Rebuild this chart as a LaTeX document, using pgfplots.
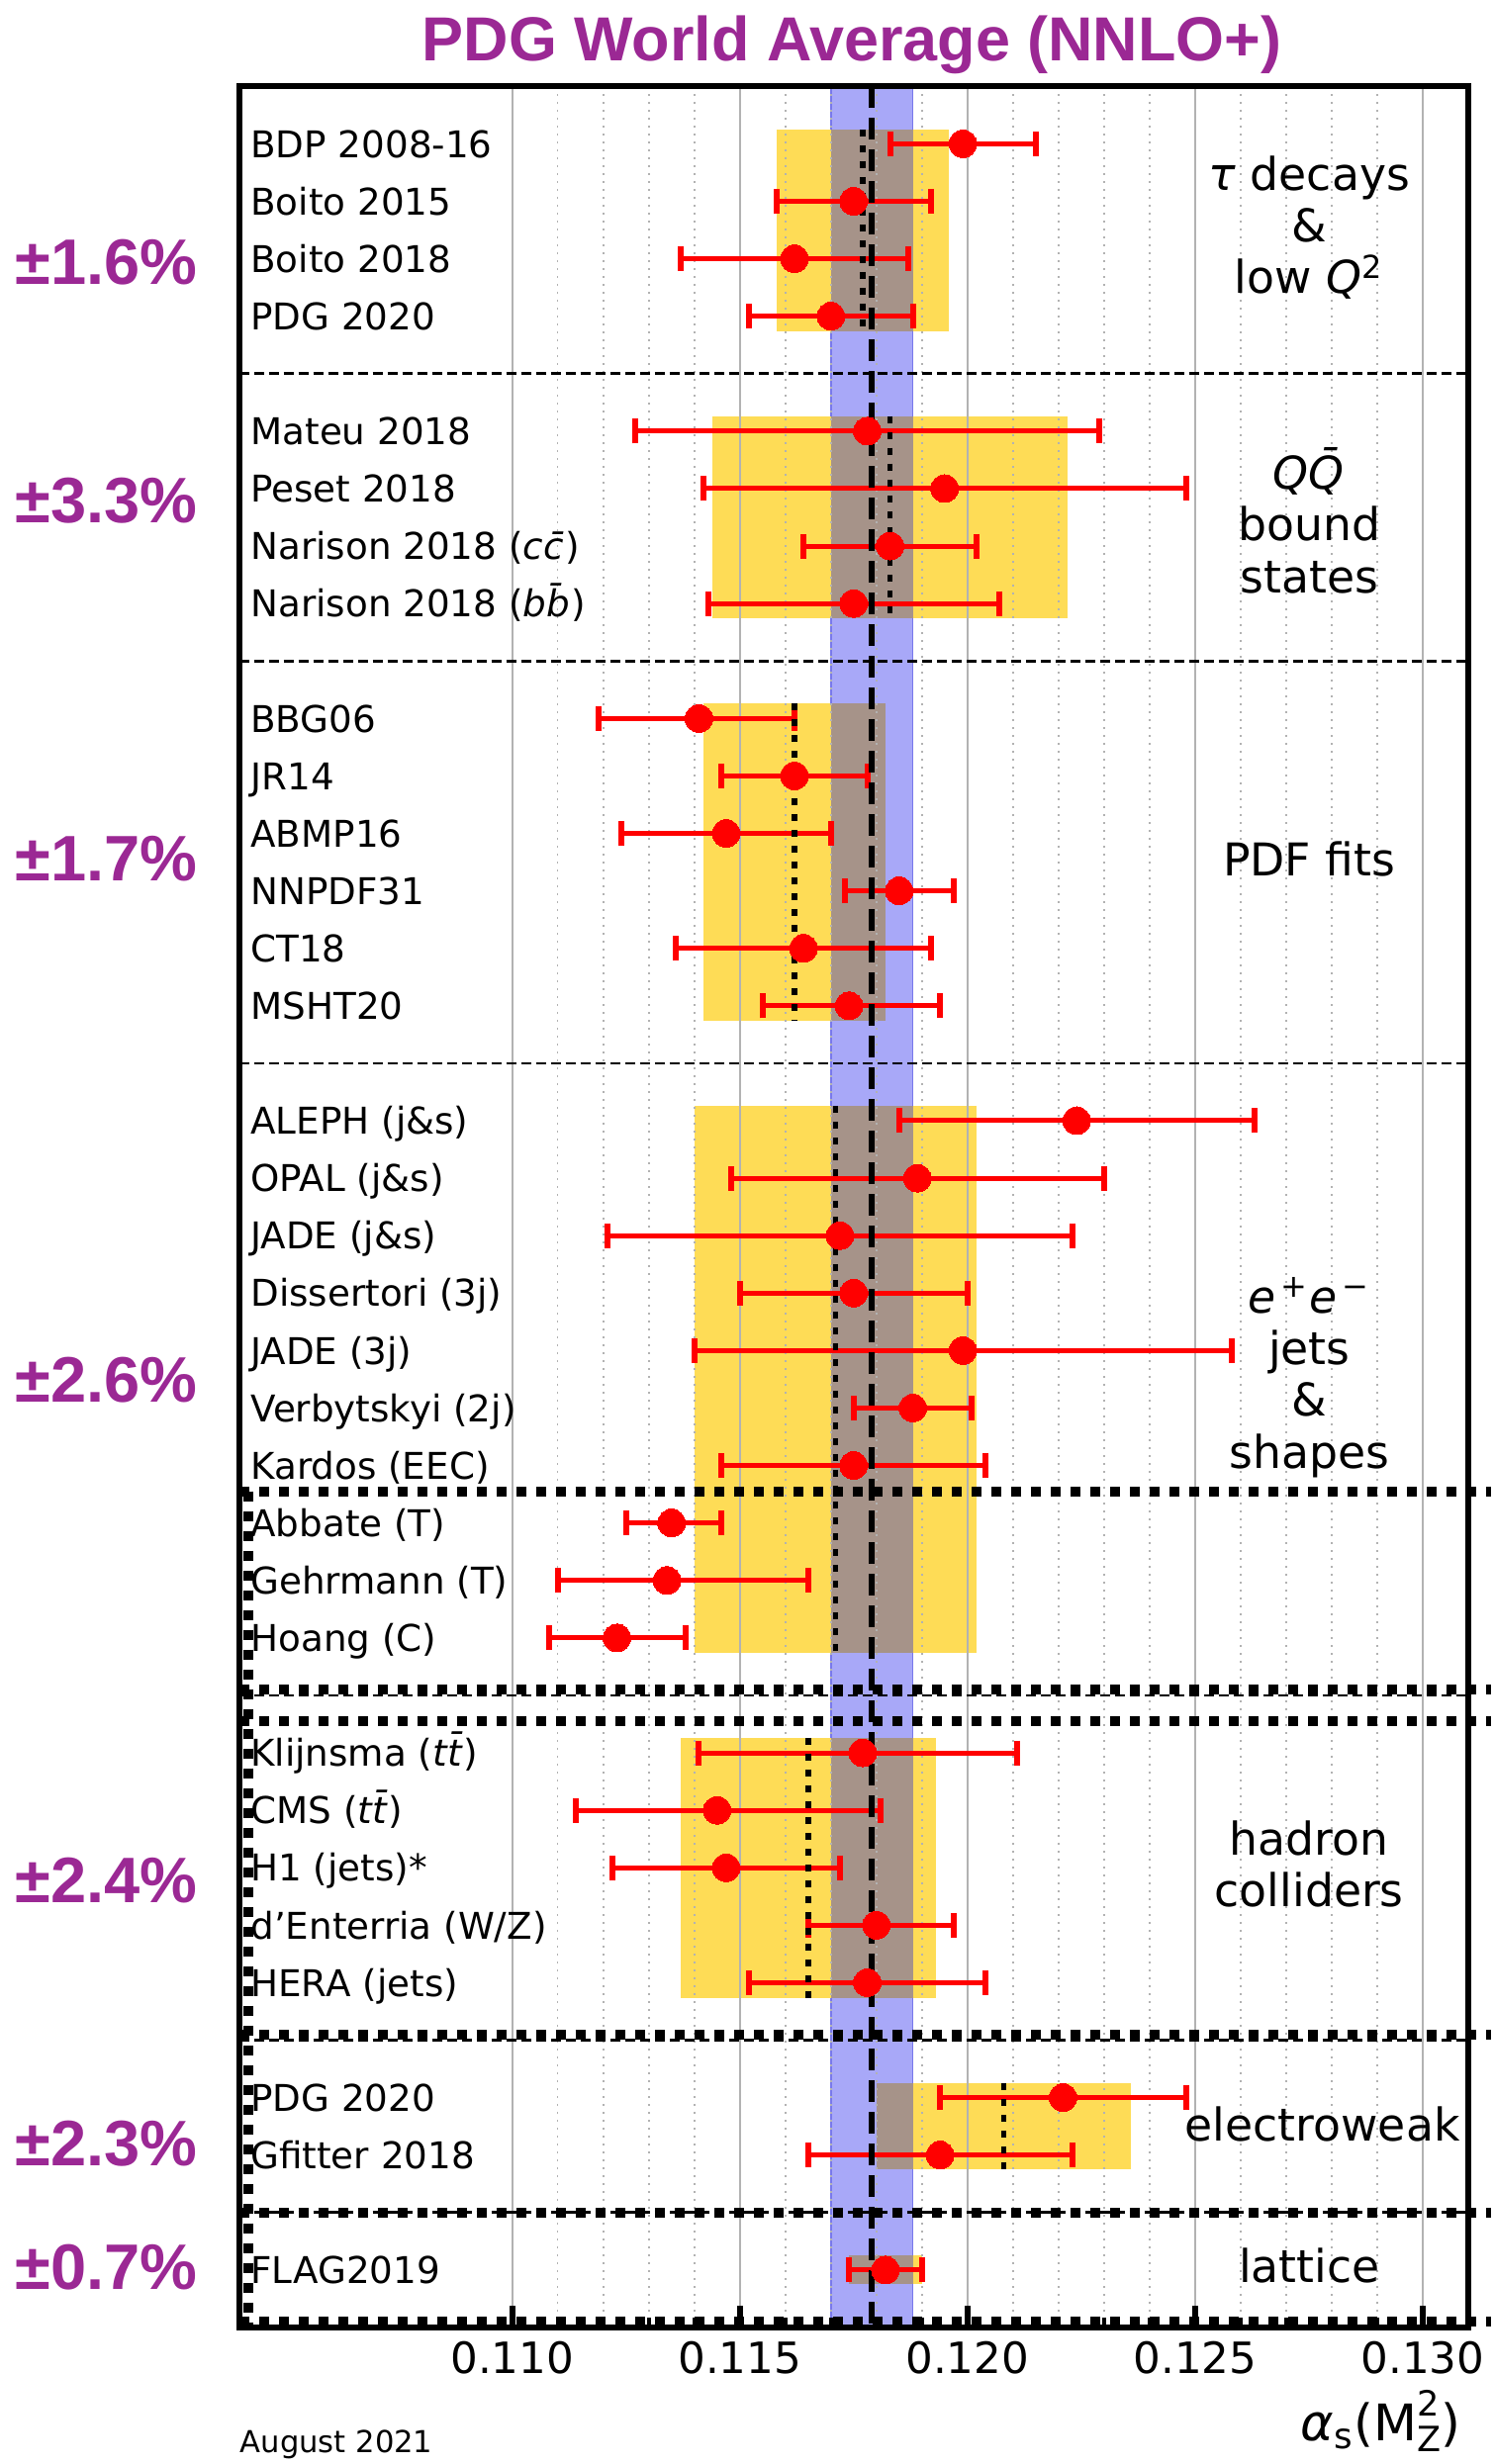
\documentclass[border=0pt]{standalone}
\usepackage{fontspec}
\setmainfont{DejaVu Sans}
\newfontfamily\helv{Liberation Sans}
\usepackage{pgfplots}
\pgfplotsset{compat=1.18}
\usepackage{pgfplotstable}
\definecolor{wapurple}{RGB}{155,40,148}
\definecolor{bandblue}{RGB}{168,168,248}
\definecolor{bandedge}{RGB}{120,120,235}
\definecolor{boxyellow}{RGB}{254,220,86}
\definecolor{boxbrown}{RGB}{166,147,137}
\definecolor{gridgray}{RGB}{178,178,178}

\pgfplotstableread{
y  x      em     ep
1  0.1199 0.0016 0.0016
2  0.1175 0.0017 0.0017
3  0.1162 0.0025 0.0025
4  0.1170 0.0018 0.0018
6  0.1178 0.0051 0.0051
7  0.1195 0.0053 0.0053
8  0.1183 0.0019 0.0019
9  0.1175 0.0032 0.0032
11 0.1141 0.0022 0.0021
12 0.1162 0.0016 0.0016
13 0.1147 0.0023 0.0023
14 0.1185 0.0012 0.0012
15 0.1164 0.0028 0.0028
16 0.1174 0.0019 0.0020
18 0.1224 0.0039 0.0039
19 0.1189 0.0041 0.0041
20 0.1172 0.0051 0.0051
21 0.1175 0.0025 0.0025
22 0.1199 0.0059 0.0059
23 0.1188 0.0013 0.0013
24 0.1175 0.0029 0.0029
25 0.1135 0.0010 0.0011
26 0.1134 0.0024 0.0031
27 0.1123 0.0015 0.0015
29 0.1177 0.0036 0.0034
30 0.1145 0.0031 0.0036
31 0.1147 0.0025 0.0025
32 0.1180 0.0015 0.0017
33 0.1178 0.0026 0.0026
35 0.1221 0.0027 0.0027
36 0.1194 0.0029 0.0029
38 0.1182 0.0008 0.0008
}\meas

\begin{document}
\begin{tikzpicture}
\begin{axis}[
  set layers,
  scale only axis, width=124.2mm, height=226.55mm,
  xmin=0.104, xmax=0.131, ymin=0, ymax=39, y dir=reverse,
  clip=false,
  axis line style={line width=0.57mm, black},
  ytick=\empty,
  xtick={0.110,0.115,0.120,0.125,0.130},
  xticklabels={0.110,0.115,0.120,0.125,0.130},
  minor xtick={0.111,0.112,0.113,0.114,0.116,0.117,0.118,0.119,0.121,0.122,0.123,0.124,0.126,0.127,0.128,0.129},
  xtick pos=bottom, tick align=inside,
  major tick length=2.2mm, minor tick length=1.0mm,
  major tick style={line width=0.6mm, black},
  minor tick style={line width=0.35mm, black},
  xmajorgrids, xminorgrids,
  major grid style={gridgray, line width=0.2mm},
  minor grid style={gridgray, line width=0.15mm, dash pattern=on 0.2mm off 0.6mm},
  xticklabel style={font=\fontsize{12.4}{14}\selectfont, inner sep=0pt, anchor=north, yshift=-1.35mm},
]
% world average band
\addplot[on layer=axis background, fill=bandblue, draw=bandedge, line width=0.15mm]
  coordinates {(0.1170,0) (0.1188,0) (0.1188,39) (0.1170,39)} -- cycle;
% group boxes (yellow)
\addplot[on layer=axis background, fill=boxyellow, draw=none] coordinates {(0.1158,0.75) (0.1196,0.75) (0.1196,4.27) (0.1158,4.27)} -- cycle;
\addplot[on layer=axis background, fill=boxyellow, draw=none] coordinates {(0.1144,5.74) (0.1222,5.74) (0.1222,9.26) (0.1144,9.26)} -- cycle;
\addplot[on layer=axis background, fill=boxyellow, draw=none] coordinates {(0.1142,10.74) (0.1182,10.74) (0.1182,16.26) (0.1142,16.26)} -- cycle;
\addplot[on layer=axis background, fill=boxyellow, draw=none] coordinates {(0.1140,17.74) (0.1202,17.74) (0.1202,27.26) (0.1140,27.26)} -- cycle;
\addplot[on layer=axis background, fill=boxyellow, draw=none] coordinates {(0.1137,28.74) (0.1193,28.74) (0.1193,33.26) (0.1137,33.26)} -- cycle;
\addplot[on layer=axis background, fill=boxyellow, draw=none] coordinates {(0.1180,34.75) (0.1236,34.75) (0.1236,36.25) (0.1180,36.25)} -- cycle;
\addplot[on layer=axis background, fill=boxyellow, draw=none] coordinates {(0.1174,37.75) (0.1190,37.75) (0.1190,38.25) (0.1174,38.25)} -- cycle;
% overlaps (brown)
\addplot[on layer=axis background, fill=boxbrown, draw=none] coordinates {(0.1170,0.75) (0.1188,0.75) (0.1188,4.27) (0.1170,4.27)} -- cycle;
\addplot[on layer=axis background, fill=boxbrown, draw=none] coordinates {(0.1170,5.74) (0.1188,5.74) (0.1188,9.26) (0.1170,9.26)} -- cycle;
\addplot[on layer=axis background, fill=boxbrown, draw=none] coordinates {(0.1170,10.74) (0.1182,10.74) (0.1182,16.26) (0.1170,16.26)} -- cycle;
\addplot[on layer=axis background, fill=boxbrown, draw=none] coordinates {(0.1170,17.74) (0.1188,17.74) (0.1188,27.26) (0.1170,27.26)} -- cycle;
\addplot[on layer=axis background, fill=boxbrown, draw=none] coordinates {(0.1170,28.74) (0.1188,28.74) (0.1188,33.26) (0.1170,33.26)} -- cycle;
\addplot[on layer=axis background, fill=boxbrown, draw=none] coordinates {(0.1180,34.75) (0.1188,34.75) (0.1188,36.25) (0.1180,36.25)} -- cycle;
\addplot[on layer=axis background, fill=boxbrown, draw=none] coordinates {(0.1174,37.75) (0.1188,37.75) (0.1188,38.25) (0.1174,38.25)} -- cycle;

% error bars
\addplot[draw=none, mark=none,
  error bars/.cd, x dir=both, x explicit,
  error bar style={draw=red, line width=0.5mm},
  error mark=|,
  error mark options={draw=red, line width=0.6mm, mark size=1.25mm}]
  table[x=x, y=y, x error minus=em, x error plus=ep] {\meas};

% world average line
\addplot[black, line width=0.6mm, dash pattern=on 2.2mm off 1mm] coordinates {(0.1179,0) (0.1179,39)};
% group averages (dotted)
\addplot[black, line width=0.55mm, dash pattern=on 0.7mm off 0.9mm] coordinates {(0.1177,0.75) (0.1177,4.27)};
\addplot[black, line width=0.55mm, dash pattern=on 0.7mm off 0.9mm] coordinates {(0.1183,5.74) (0.1183,9.26)};
\addplot[black, line width=0.55mm, dash pattern=on 0.7mm off 0.9mm] coordinates {(0.1162,10.74) (0.1162,16.26)};
\addplot[black, line width=0.55mm, dash pattern=on 0.7mm off 0.9mm] coordinates {(0.1171,17.74) (0.1171,27.26)};
\addplot[black, line width=0.55mm, dash pattern=on 0.7mm off 0.9mm] coordinates {(0.1165,28.74) (0.1165,33.26)};
\addplot[black, line width=0.55mm, dash pattern=on 0.7mm off 0.9mm] coordinates {(0.1208,34.75) (0.1208,36.25)};

% thin dashed separators
\addplot[black, line width=0.27mm, dash pattern=on 1.0mm off 0.5mm] coordinates {(0.104,5) (0.131,5)};
\addplot[black, line width=0.27mm, dash pattern=on 1.0mm off 0.5mm] coordinates {(0.104,10) (0.131,10)};
\addplot[black, line width=0.27mm, dash pattern=on 1.0mm off 0.5mm] coordinates {(0.104,17) (0.131,17)};
\addplot[black, line width=0.27mm, dash pattern=on 1.0mm off 0.5mm] coordinates {(0.104,28) (0.131,28)};
\addplot[black, line width=0.27mm, dash pattern=on 1.0mm off 0.5mm] coordinates {(0.104,34) (0.131,34)};
\addplot[black, line width=0.27mm, dash pattern=on 1.0mm off 0.5mm] coordinates {(0.104,37) (0.131,37)};
% thick dotted overlay lines
\addplot[black, line width=1mm, dash pattern=on 1mm off 1mm] coordinates {(0.104,24.45) (0.1315,24.45)};
\addplot[black, line width=1mm, dash pattern=on 1mm off 1mm] coordinates {(0.104,27.9) (0.1315,27.9)};
\addplot[black, line width=1mm, dash pattern=on 1mm off 1mm] coordinates {(0.104,28.45) (0.1315,28.45)};
\addplot[black, line width=1mm, dash pattern=on 1mm off 1mm] coordinates {(0.104,33.9) (0.1315,33.9)};
\addplot[black, line width=1mm, dash pattern=on 1mm off 1mm] coordinates {(0.104,37.0) (0.1315,37.0)};
\addplot[black, line width=1mm, dash pattern=on 1mm off 1mm] coordinates {(0.104,38.9) (0.1315,38.9)};
\addplot[black, line width=1mm, dash pattern=on 1mm off 1mm] coordinates {(0.10420,24.45) (0.10420,39)};

% markers
\addplot[red, only marks, mark=*, mark size=1.4mm, mark options={fill=red, draw=red, line width=0pt}]
  table[x=x, y=y] {\meas};

% title
\node[anchor=base, text=wapurple, font=\helv\bfseries\fontsize{17.9}{20}\selectfont] at (0.117463,-0.44) {PDG World Average (NNLO+)};

% percent labels
\begin{scope}[every node/.style={anchor=base, text=wapurple, font=\helv\bfseries\fontsize{18.5}{20}\selectfont}]
\node at (0.101083,3.44) {±1.6\%};
\node at (0.101083,7.6) {±3.3\%};
\node at (0.101083,13.82) {±1.7\%};
\node at (0.101083,22.9) {±2.6\%};
\node at (0.101083,31.6) {±2.4\%};
\node at (0.101083,36.19) {±2.3\%};
\node at (0.101083,38.33) {±0.7\%};
\end{scope}

% row labels
\begin{scope}[every node/.style={anchor=base west, xshift=1.1mm, yshift=-1.37mm, inner sep=0pt, font=\fontsize{10.6}{12}\selectfont}]
\node at (0.104,1) {BDP 2008-16};
\node at (0.104,2) {Boito 2015};
\node at (0.104,3) {Boito 2018};
\node at (0.104,4) {PDG 2020};
\node at (0.104,6) {Mateu 2018};
\node at (0.104,7) {Peset 2018};
\node at (0.104,8) {Narison 2018 (\textit{c\=c})};
\node at (0.104,9) {Narison 2018 (\textit{b\=b})};
\node at (0.104,11) {BBG06};
\node at (0.104,12) {JR14};
\node at (0.104,13) {ABMP16};
\node at (0.104,14) {NNPDF31};
\node at (0.104,15) {CT18};
\node at (0.104,16) {MSHT20};
\node at (0.104,18) {ALEPH (j\&s)};
\node at (0.104,19) {OPAL (j\&s)};
\node at (0.104,20) {JADE (j\&s)};
\node at (0.104,21) {Dissertori (3j)};
\node at (0.104,22) {JADE (3j)};
\node at (0.104,23) {Verbytskyi (2j)};
\node at (0.104,24) {Kardos (EEC)};
\node at (0.104,25) {Abbate (T)};
\node at (0.104,26) {Gehrmann (T)};
\node at (0.104,27) {Hoang (C)};
\node at (0.104,29) {Klijnsma (\textit{t\=t})};
\node at (0.104,30) {CMS (\textit{t\=t})};
\node at (0.104,31) {H1 (jets)*};
\node at (0.104,32) {d'Enterria (W/Z)};
\node at (0.104,33) {HERA (jets)};
\node at (0.104,35) {PDG 2020};
\node at (0.104,36) {Gfitter 2018};
\node at (0.104,38) {FLAG2019};
\end{scope}

% group labels
\begin{scope}[every node/.style={anchor=center, align=center, inner sep=0pt, font=\fontsize{13}{14.9}\selectfont}]
\node at (0.12751,2.46) {\textit{τ} decays\\\&\\low \textit{Q}\textsuperscript{2}};
\node at (0.12751,7.55) {\textit{Q\=Q}\\bound\\states};
\node at (0.12751,13.45) {PDF fits};
\node at (0.12751,22.47) {\textit{e}\textsuperscript{\,+}\textit{e}\textsuperscript{\,−}\\jets\\\&\\shapes};
\node at (0.12751,30.93) {hadron\\colliders};
\node at (0.1278,35.46) {electroweak};
\node at (0.12751,37.92) {lattice};
\end{scope}

% axis label and date
\node[anchor=base east, yshift=-11.5mm, inner sep=0pt, font=\fontsize{14.5}{16}\selectfont] at (0.130854,39) {\textit{α}\textsubscript{s}(M\raisebox{-2.85pt}{\fontsize{10}{9.4}\selectfont\begin{tabular}[b]{@{}l@{}}2\\Z\end{tabular}})};
\node[anchor=base west, yshift=-12.7mm, inner sep=0pt, font=\fontsize{8.7}{10}\selectfont] at (0.10401,39) {August 2021};
\end{axis}
\pgfresetboundingbox
\path[use as bounding box] (-24.17mm,-13.8mm) rectangle (126.73mm,235.28mm);
\end{tikzpicture}
\end{document}
